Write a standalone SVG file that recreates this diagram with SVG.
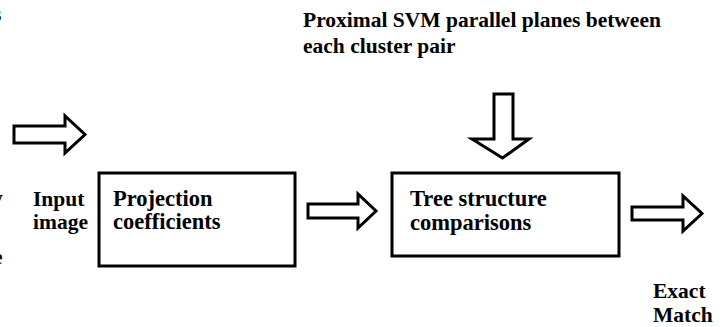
<svg xmlns="http://www.w3.org/2000/svg" width="727" height="327" viewBox="0 0 727 327">
<style>
text{font-family:"Liberation Serif","Times New Roman",serif;font-weight:bold;font-size:21.5px;fill:#000}
.bt{font-size:22.5px}
.box{fill:#fff;stroke:#000;stroke-width:3}
.arr{fill:#fff;stroke:#000;stroke-width:3;stroke-linejoin:miter}
</style>
<rect width="727" height="327" fill="#fff"/>
<g id="edge-text">
<text x="-7" y="21">s</text>
<text x="-8" y="205">y</text>
<text x="-7" y="264">e</text>
</g>
<g id="connectors">
<path class="arr" d="M14,126 H65 V116 L85,134.5 L65,153 V143 H14 Z"/>
<path class="arr" d="M308,204 H358 V194 L376,211 L358,228 V218 H308 Z"/>
<path class="arr" d="M494,94 H513 V139 H529 L502.5,158 L472,139 H494 Z"/>
<path class="arr" d="M632,207 H683 V196 L702,213.5 L683,231 V220 H632 Z"/>
</g>
<g id="input-label">
<text x="33" y="206">Input</text>
<text x="33" y="229">image</text>
</g>
<g id="projection">
<rect class="box" x="99" y="173" width="196" height="93"/>
<text class="bt" x="113" y="206">Projection</text>
<text class="bt" x="113" y="229">coefficients</text>
</g>
<g id="tree">
<rect class="box" x="392" y="173" width="227" height="83"/>
<text class="bt" x="410" y="206">Tree structure</text>
<text class="bt" x="410" y="230">comparisons</text>
</g>
<g id="svm-label">
<text x="303" y="27">Proximal SVM parallel planes between</text>
<text x="303" y="53">each cluster pair</text>
</g>
<g id="match-label">
<text x="653" y="298">Exact</text>
<text x="653" y="322">Match</text>
</g>
</svg>
